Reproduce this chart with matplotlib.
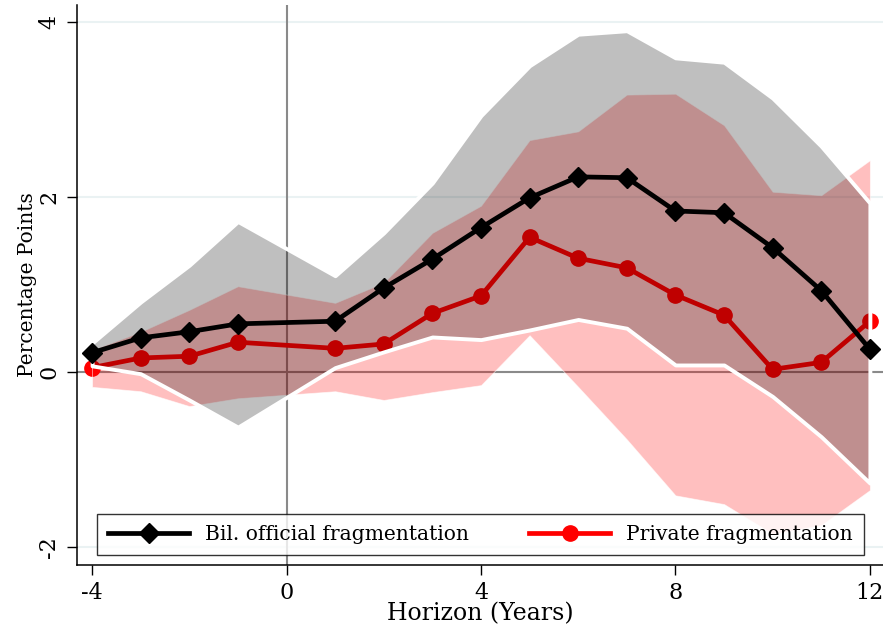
import matplotlib.pyplot as plt

# Horizon (no 0 observation)
horizon = [-4, -3, -2, -1, 1, 2, 3, 4, 5, 6, 7, 8, 9, 10, 11, 12]

# Bilateral official fragmentation: point estimate and confidence band
official = [0.22, 0.39, 0.46, 0.55, 0.58, 0.96, 1.29, 1.65, 1.99, 2.23, 2.22, 1.84, 1.82, 1.42, 0.93, 0.26]
official_hi = [0.33, 0.80, 1.22, 1.72, 1.10, 1.59, 2.16, 2.93, 3.50, 3.86, 3.90, 3.59, 3.54, 3.13, 2.58, 1.93]
official_lo = [0.07, -0.02, -0.32, -0.63, 0.05, 0.23, 0.40, 0.37, 0.48, 0.60, 0.50, 0.08, 0.08, -0.28, -0.74, -1.27]

# Private fragmentation: point estimate and confidence band
private = [0.05, 0.16, 0.18, 0.34, 0.27, 0.32, 0.67, 0.87, 1.54, 1.30, 1.19, 0.88, 0.65, 0.03, 0.11, 0.58]
private_hi = [0.25, 0.46, 0.71, 0.98, 0.79, 1.02, 1.59, 1.90, 2.65, 2.75, 3.17, 3.18, 2.82, 2.06, 2.02, 2.42]
private_lo = [-0.17, -0.22, -0.39, -0.30, -0.22, -0.32, -0.23, -0.15, 0.42, -0.17, -0.77, -1.41, -1.51, -1.85, -1.75, -1.35]

x_ticks = [-4, 0, 4, 8, 12]
y_ticks = [-2, 0, 2, 4]

plt.rcParams['font.family'] = ['DejaVu Serif']
plt.rcParams['axes.unicode_minus'] = False

fig = plt.figure(figsize=(8.83, 6.28), dpi=100)
ax = fig.add_axes([77 / 883, 63 / 628, 806 / 883, 560 / 628])

# Grid and reference lines
for yv in y_ticks:
    ax.axhline(yv, color='#eaf2f3', lw=1.5, zorder=0)
ax.axvline(0, color='#8a8a8a', lw=1.5, zorder=1)
ax.axhline(0, color='#8a8a8a', lw=1.5, zorder=1)

# Private line sits under the bands
ax.plot(horizon, private, color='#ff0000', lw=3.4, marker='o', markersize=11,
        zorder=2, label='Private fragmentation')

# Bands
ax.fill_between(horizon, private_lo, private_hi, facecolor=(1, 0, 0, 0.25),
                edgecolor=(1, 1, 1, 0.6), lw=0.6, zorder=3)
ax.fill_between(horizon, official_lo, official_hi, facecolor=(0, 0, 0, 0.25),
                edgecolor='white', lw=2.8, zorder=4)

ax.plot(horizon, official, color='black', lw=3.4, marker='D', markersize=10,
        zorder=5, label='Bil. official fragmentation')

ax.set_xlim(-4.31, 12.27)
ax.set_ylim(-2.206, 4.194)
ax.set_xticks(x_ticks)
ax.set_yticks(y_ticks)
ax.tick_params(axis='both', direction='out', length=7, width=1, labelsize=16, pad=5)
for lab in ax.get_yticklabels():
    lab.set_rotation(90)
    lab.set_va('center')
ax.spines['top'].set_visible(False)
ax.spines['right'].set_visible(False)
ax.spines['left'].set_linewidth(1.1)
ax.spines['bottom'].set_linewidth(1.1)

ax.set_xlabel('Horizon (Years)', fontsize=17, labelpad=-1)
ax.set_ylabel('Percentage Points', fontsize=14.5, labelpad=1)

handles, labels = ax.get_legend_handles_labels()
leg = ax.legend(handles[::-1], labels[::-1], loc='lower left', ncol=2,
                bbox_to_anchor=(0.0248, 0.018, 0.952, 0.075), mode='expand',
                fontsize=14.6, frameon=True, fancybox=False, edgecolor='black',
                handlelength=4.0, borderaxespad=0, borderpad=0.55, columnspacing=2)
leg.get_frame().set_linewidth(1.0)
leg.set_zorder(10)

plt.savefig('out.png', dpi=100)
